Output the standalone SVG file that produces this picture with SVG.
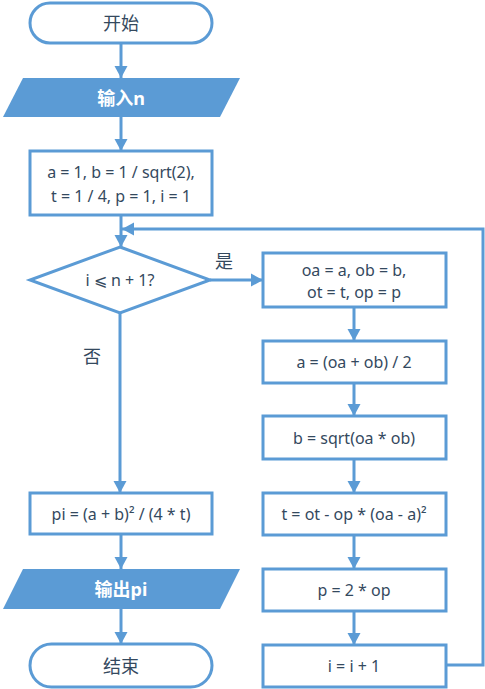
<svg xmlns="http://www.w3.org/2000/svg" width="485" height="689" viewBox="0 0 485 689">
<style>
.n{fill:#fff;stroke:#5b9bd5;stroke-width:3}
.io{fill:#5b9bd5;stroke:none}
.t{font-family:"Noto Sans","Noto Sans CJK SC",sans-serif;font-size:16px;fill:#34495e;text-anchor:middle;dominant-baseline:central}
.z{font-size:18px}
.w{fill:#fff;font-weight:bold}
.c{fill:none;stroke:#5b9bd5;stroke-width:3}
</style>
<defs>
<marker id="ah" markerUnits="userSpaceOnUse" markerWidth="14" markerHeight="14" refX="12" refY="7" orient="auto">
<path d="M0,0.5 L12,7 L0,13.5 z" fill="#5b9bd5"/>
</marker>
</defs>
<rect width="485" height="689" fill="#fff"/>
<g id="connectors">
<path class="c" d="M121,43 V78" marker-end="url(#ah)"/>
<path class="c" d="M121,117 V151" marker-end="url(#ah)"/>
<path class="c" d="M121,215 V247" marker-end="url(#ah)"/>
<path class="c" d="M120,313 V493" marker-end="url(#ah)"/>
<path class="c" d="M121,534 V569" marker-end="url(#ah)"/>
<path class="c" d="M121,609 V644" marker-end="url(#ah)"/>
<path class="c" d="M210,280 H263" marker-end="url(#ah)"/>
<path class="c" d="M354,307 V341" marker-end="url(#ah)"/>
<path class="c" d="M354,383 V416" marker-end="url(#ah)"/>
<path class="c" d="M354,459 V493" marker-end="url(#ah)"/>
<path class="c" d="M354,535 V569" marker-end="url(#ah)"/>
<path class="c" d="M354,611 V645" marker-end="url(#ah)"/>
<path class="c" d="M446,665 H483 V229 H122" marker-end="url(#ah)"/>
<text class="t z" x="224" y="261">是</text>
<text class="t z" x="92" y="356">否</text>
</g>
<g id="start">
<rect class="n" x="30" y="3" width="182" height="40" rx="20"/>
<text class="t z" x="121" y="23">开始</text>
</g>
<g id="input">
<polygon class="io" points="23,78 240,78 220,117 3,117"/>
<text class="t z w" x="121" y="98">输入n</text>
</g>
<g id="init">
<rect class="n" x="30" y="151" width="182" height="64"/>
<text class="t" x="121" y="172">a = 1, b = 1 / sqrt(2),</text>
<text class="t" x="121" y="196">t = 1 / 4, p = 1, i = 1</text>
</g>
<g id="cond">
<polygon class="n" points="120,247 210,280 120,313 30,280"/>
<text class="t" x="120" y="280">i ⩽ n + 1?</text>
</g>
<g id="save">
<rect class="n" x="263" y="253" width="183" height="54"/>
<text class="t" x="354" y="270">oa = a, ob = b,</text>
<text class="t" x="354" y="292">ot = t, op = p</text>
</g>
<g id="upa">
<rect class="n" x="263" y="341" width="183" height="42"/>
<text class="t" x="354" y="362">a = (oa + ob) / 2</text>
</g>
<g id="upb">
<rect class="n" x="263" y="416" width="183" height="43"/>
<text class="t" x="354" y="438">b = sqrt(oa * ob)</text>
</g>
<g id="upt">
<rect class="n" x="263" y="493" width="183" height="42"/>
<text class="t" x="354" y="514">t = ot - op * (oa - a)²</text>
</g>
<g id="upp">
<rect class="n" x="263" y="569" width="183" height="42"/>
<text class="t" x="354" y="590">p = 2 * op</text>
</g>
<g id="inci">
<rect class="n" x="263" y="645" width="183" height="42"/>
<text class="t" x="354" y="666">i = i + 1</text>
</g>
<g id="pi">
<rect class="n" x="30" y="493" width="182" height="41"/>
<text class="t" x="121" y="514">pi = (a + b)² / (4 * t)</text>
</g>
<g id="output">
<polygon class="io" points="23,569 240,569 220,609 3,609"/>
<text class="t z w" x="121" y="589">输出pi</text>
</g>
<g id="end">
<rect class="n" x="30" y="644" width="182" height="43" rx="21.5"/>
<text class="t z" x="121" y="666">结束</text>
</g>
</svg>
